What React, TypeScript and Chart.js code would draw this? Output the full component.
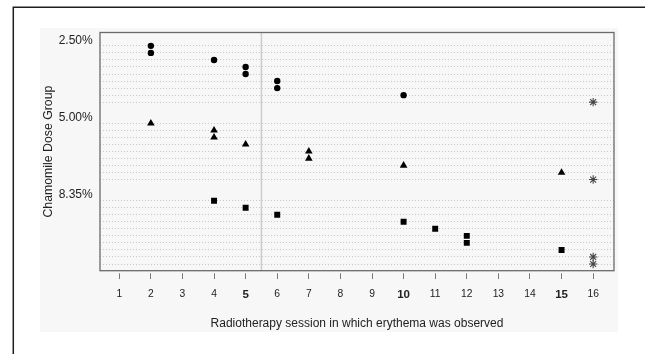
import React, { useEffect, useRef } from "react";
import { Chart, registerables } from "chart.js";

Chart.register(...registerables);

// ---- data ----
const doseGroups = ["2.50%", "5.00%", "8.35%"];
const dose250Sessions = [2, 2, 4, 5, 5, 6, 6, 10];
const dose250Censored = [16];
const dose500Sessions = [2, 4, 4, 5, 7, 7, 10, 15];
const dose500Censored = [16];
const dose835Sessions = [4, 5, 6, 10, 11, 12, 12, 15];
const dose835Censored = [16, 16];
const sessionTicks = [1, 2, 3, 4, 5, 6, 7, 8, 9, 10, 11, 12, 13, 14, 15, 16];
const boldSessions = [5, 10, 15];
const cutoffSession = 5.5;
const xTitle = "Radiotherapy session in which erythema was observed";
const yTitle = "Chamomile Dose Group";

const FONT = "'Liberation Sans', Arial, Helvetica, sans-serif";
const PANEL = "#f7f7f7";

type Pt = { x: number; y: number };

function buildRows() {
  const groups = [
    { sessions: dose250Sessions, censored: dose250Censored },
    { sessions: dose500Sessions, censored: dose500Censored },
    { sessions: dose835Sessions, censored: dose835Censored },
  ];
  const observed: Pt[][] = [];
  const stars: Pt[] = [];
  const labelPos: number[] = [];
  const rowPos: number[] = [];
  let row = 1;
  groups.forEach((g) => {
    labelPos.push(row - 0.8);
    const pts: Pt[] = [];
    g.sessions.forEach((s) => {
      pts.push({ x: s, y: row });
      rowPos.push(row);
      row++;
    });
    g.censored.forEach((s) => {
      stars.push({ x: s, y: row });
      rowPos.push(row);
      row++;
    });
    observed.push(pts);
    row += 2;
  });
  return { observed, stars, labelPos, rowPos };
}

export default function App() {
  const ref = useRef<HTMLCanvasElement | null>(null);

  useEffect(() => {
    if (!ref.current) return;
    const { observed, stars, labelPos, rowPos } = buildRows();
    const yMin = -0.9;
    const yMax = 32.95;

    const decor = {
      id: "decor",
      beforeDraw(chart: any) {
        const c = chart.ctx;
        c.save();
        c.fillStyle = "#ffffff";
        c.fillRect(0, 0, chart.width, chart.height);
        c.fillStyle = PANEL;
        c.fillRect(40, 28, 578, 304);
        c.strokeStyle = "#1e1e1e";
        c.lineWidth = 1.5;
        c.beginPath();
        c.moveTo(13.3, chart.height);
        c.lineTo(13.3, 7.3);
        c.lineTo(chart.width, 7.3);
        c.stroke();
        c.restore();
      },
      beforeDatasetsDraw(chart: any) {
        const c = chart.ctx;
        const a = chart.chartArea;
        const x = chart.scales.x.getPixelForValue(cutoffSession);
        c.save();
        c.strokeStyle = "#cdcdcd";
        c.lineWidth = 1.5;
        c.beginPath();
        c.moveTo(x, a.top);
        c.lineTo(x, a.bottom);
        c.stroke();
        c.restore();
      },
      afterDraw(chart: any) {
        const c = chart.ctx;
        const a = chart.chartArea;
        c.save();
        c.fillStyle = PANEL;
        c.fillRect(a.left - 2, a.bottom, a.right - a.left + 4, 2.6);
        c.strokeStyle = "#6a6a6a";
        c.lineWidth = 1.3;
        c.strokeRect(a.left, a.top, a.right - a.left, a.bottom - a.top);
        c.restore();
      },
    };

    const chart = new Chart(ref.current, {
      type: "scatter",
      data: {
        datasets: [
          {
            label: doseGroups[0],
            data: observed[0],
            pointStyle: "circle",
            pointRadius: 3.2,
            backgroundColor: "#000",
            borderWidth: 0,
          },
          {
            label: doseGroups[1],
            data: observed[1],
            pointStyle: "triangle",
            pointRadius: 4.4,
            backgroundColor: "#000",
            borderWidth: 0,
          },
          {
            label: doseGroups[2],
            data: observed[2],
            pointStyle: "rect",
            pointRadius: 4.2,
            backgroundColor: "#000",
            borderWidth: 0,
          },
          {
            label: "censored",
            data: stars,
            pointStyle: "star",
            pointRadius: 4.2,
            borderColor: "#454545",
            borderWidth: 1.1,
            backgroundColor: "#454545",
          },
        ],
      },
      options: {
        responsive: false,
        animation: false,
        events: [],
        layout: { padding: { left: 0, top: 32.5, right: 31, bottom: 0 } },
        plugins: { legend: { display: false }, tooltip: { enabled: false } },
        scales: {
          x: {
            type: "linear",
            position: "bottom",
            min: 0.39,
            max: 16.66,
            afterBuildTicks: (s: any) => {
              s.ticks = sessionTicks.map((v) => ({ value: v }));
            },
            afterFit: (s: any) => {
              s.height = 83.3;
            },
            grid: {
              display: true,
              drawOnChartArea: false,
              drawTicks: true,
              tickLength: 8.3,
              color: "#777",
              lineWidth: 1,
            },
            border: { display: false },
            ticks: {
              autoSkip: false,
              maxRotation: 0,
              padding: 9.3,
              color: "#222",
              callback: (v: any) => String(v),
              font: (ctx: any) =>
                ctx.tick && boldSessions.includes(ctx.tick.value)
                  ? { family: FONT, size: 11.5, weight: "bold" }
                  : { family: FONT, size: 10.3 },
            },
            title: {
              display: true,
              text: xTitle,
              color: "#222",
              font: { family: FONT, size: 12 },
              padding: { top: 4, bottom: 22.8 },
            },
          },
          y: {
            type: "linear",
            position: "left",
            reverse: true,
            min: yMin,
            max: yMax,
            afterBuildTicks: (s: any) => {
              s.ticks = labelPos.map((v) => ({ value: v }));
            },
            afterFit: (s: any) => {
              s.width = 100;
            },
            grid: { display: false, drawTicks: false },
            border: { display: false },
            ticks: {
              autoSkip: false,
              padding: 7.3,
              color: "#222",
              font: { family: FONT, size: 12 },
              callback: (_v: any, i: number) => doseGroups[i],
            },
            title: {
              display: true,
              text: yTitle,
              color: "#222",
              font: { family: FONT, size: 12.3 },
              padding: { top: 41.5, bottom: 0 },
            },
          },
          yRows: {
            type: "linear",
            position: "left",
            reverse: true,
            min: yMin,
            max: yMax,
            afterBuildTicks: (s: any) => {
              s.ticks = rowPos.map((v) => ({ value: v }));
            },
            afterFit: (s: any) => {
              s.width = 0;
            },
            ticks: { display: false },
            grid: { display: true, drawTicks: false, color: "#c8c8c8", lineWidth: 1 },
            border: { display: false, dash: [1, 2] },
          },
        },
      },
      plugins: [decor],
    } as any);

    return () => chart.destroy();
  }, []);

  return (
    <div style={{ position: "fixed", left: 0, top: 0, width: 645, height: 354, background: "#fff" }}>
      <canvas ref={ref} width={645} height={354} style={{ display: "block" }} />
    </div>
  );
}
